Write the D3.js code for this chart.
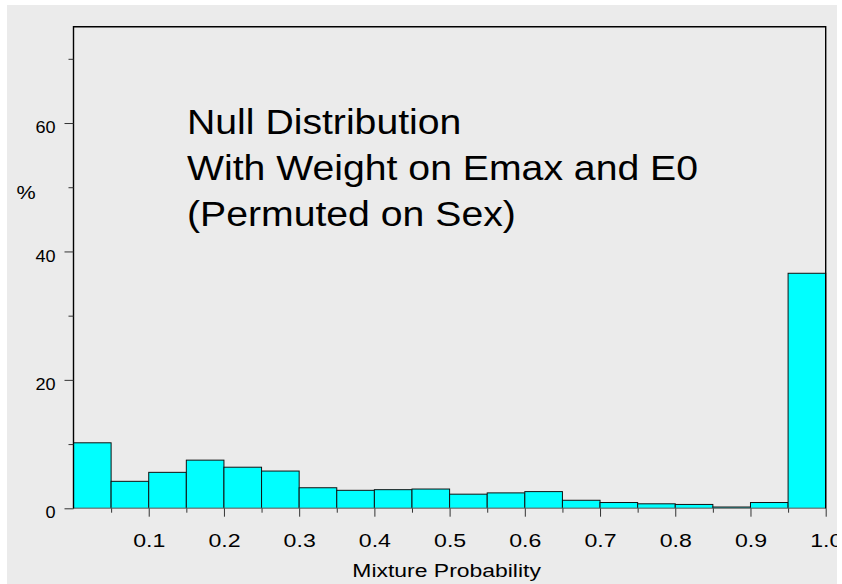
<!DOCTYPE html>
<html>
<head>
<meta charset="utf-8">
<script src="https://cdn.jsdelivr.net/npm/d3@7"></script>
<style>
  body { margin: 0; background: #fff; }
  svg { display: block; font-family: "Liberation Sans", Arial, sans-serif; }
</style>
</head>
<body>
<svg id="chart"></svg>
<script>
// histogram bins (lower edge) and percent of permutations in each bin
const binLower = [0.00, 0.05, 0.10, 0.15, 0.20, 0.25, 0.30, 0.35, 0.40, 0.45,
                  0.50, 0.55, 0.60, 0.65, 0.70, 0.75, 0.80, 0.85, 0.90, 0.95];
const binWidth = 0.05;
const percent = [10.2, 4.2, 5.6, 7.5, 6.4, 5.8, 3.2, 2.8, 2.9, 3.0,
                 2.2, 2.4, 2.6, 1.25, 0.9, 0.7, 0.6, 0.2, 0.9, 36.6];

const xMajor = [0.1, 0.2, 0.3, 0.4, 0.5, 0.6, 0.7, 0.8, 0.9, 1.0];
const xMinor = [0.05, 0.15, 0.25, 0.35, 0.45, 0.55, 0.65, 0.75, 0.85, 0.95];
const yMajor = [0, 20, 40, 60];
const yMinor = [10, 30, 50, 70];

const titleLines = ["Null Distribution", "With Weight on Emax and E0", "(Permuted on Sex)"];

const width = 842, height = 584;
const panel = {x: 7, y: 5, w: 830, h: 579};

const svg = d3.select("#chart").attr("width", width).attr("height", height);

svg.append("defs").append("clipPath").attr("id", "panelClip")
  .append("rect").attr("x", panel.x).attr("y", panel.y).attr("width", panel.w).attr("height", panel.h);

const root = svg.append("g").attr("clip-path", "url(#panelClip)");

root.append("rect")
  .attr("x", panel.x).attr("y", panel.y)
  .attr("width", panel.w).attr("height", panel.h)
  .attr("fill", "#ebebeb");

const x = d3.scaleLinear().domain([0, 1]).range([73.5, 825.7]);
const y = d3.scaleLinear().domain([0, 75]).range([508.3, 26.7]);

// bars
root.append("g").selectAll("rect")
  .data(binLower)
  .join("rect")
  .attr("x", d => x(d))
  .attr("y", (d, i) => y(percent[i]))
  .attr("width", x(binWidth) - x(0))
  .attr("height", (d, i) => y(0) - y(percent[i]))
  .attr("fill", "#00ffff")
  .attr("stroke", "#111")
  .attr("stroke-width", 1);

// light baseline under bars
root.append("line")
  .attr("x1", x(0)).attr("x2", x(1))
  .attr("y1", y(0)).attr("y2", y(0))
  .attr("stroke", "#999").attr("stroke-width", 1);

// frame: top, left, right
root.append("path")
  .attr("d", `M${x(0)},${y(0)}V${y(75)}H${x(1)}V${y(0)}`)
  .attr("fill", "none")
  .attr("stroke", "#000")
  .attr("stroke-width", 1.4);

// y axis
const yAxisG = root.append("g").attr("transform", `translate(${x(0)},0)`);
yAxisG.append("g")
  .call(d3.axisLeft(y).tickValues(yMinor).tickSize(5).tickFormat(""))
  .call(g => g.select(".domain").remove())
  .call(g => g.selectAll("line").attr("stroke", "#333"));
yAxisG.append("g")
  .call(d3.axisLeft(y).tickValues(yMajor).tickSize(9).tickFormat(d3.format("d")))
  .call(g => g.select(".domain").remove())
  .call(g => g.selectAll("line").attr("stroke", "#333"))
  .call(g => g.selectAll("text")
    .attr("font-size", 16)
    .attr("fill", "#000")
    .attr("x", -18 / 1.13)
    .attr("dy", "0.6em")
    .attr("transform", "scale(1.13,1)"));

// x axis
const xAxisG = root.append("g").attr("transform", `translate(0,${y(0)})`);
xAxisG.append("g")
  .call(d3.axisBottom(x).tickValues(xMinor).tickSize(4.4).tickFormat(""))
  .call(g => g.select(".domain").remove())
  .call(g => g.selectAll("line").attr("stroke", "#333"));
xAxisG.append("g")
  .call(d3.axisBottom(x).tickValues(xMajor).tickSize(8.4).tickFormat(d3.format(".1f")))
  .call(g => g.select(".domain").remove())
  .call(g => g.selectAll("line").attr("stroke", "#333"))
  .call(g => g.selectAll("text")
    .attr("font-size", 18.5)
    .attr("fill", "#000")
    .attr("y", 38.4)
    .attr("dy", 0)
    .attr("transform", "scale(1.25,1)"));

// axis titles
root.append("text")
  .attr("transform", `translate(${(x(0) + x(1)) / 2 - 3},576.7) scale(1.24,1)`)
  .attr("text-anchor", "middle")
  .attr("font-size", 18.5)
  .text("Mixture Probability");

root.append("text")
  .attr("transform", "translate(26,199.3) scale(1.2,1)")
  .attr("text-anchor", "middle")
  .attr("font-size", 18)
  .text("%");

// title block inside the plot
root.append("g").selectAll("text")
  .data(titleLines)
  .join("text")
  .attr("transform", (d, i) => `translate(187,${134.3 + i * 46}) scale(1.12,1)`)
  .attr("font-size", 35)
  .attr("fill", "#000")
  .text(d => d);
</script>
</body>
</html>
